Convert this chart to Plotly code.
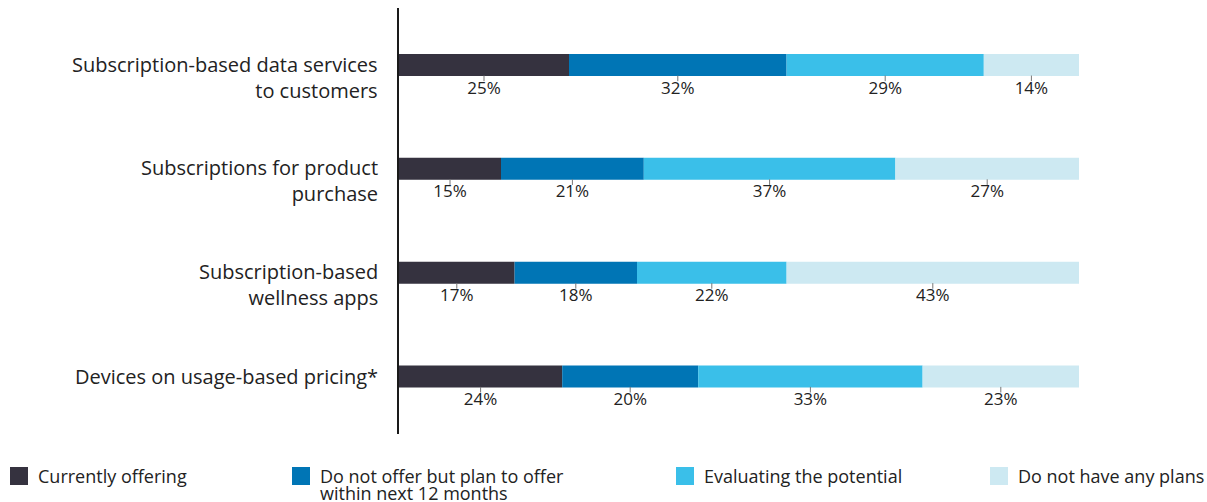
import plotly.graph_objects as go

# Survey data: share of respondents per offering model
categories = [
    "Subscription-based data services<br>to customers",
    "Subscriptions for product<br>purchase",
    "Subscription-based<br>wellness apps",
    "Devices on usage-based pricing*",
]
series_names = [
    "Currently offering",
    "Do not offer but plan to offer<br>within next 12 months",
    "Evaluating the potential",
    "Do not have any plans",
]
currently_offering = [25, 15, 17, 24]
plan_to_offer = [32, 21, 18, 20]
evaluating = [29, 37, 22, 33]
no_plans = [14, 27, 43, 23]

series_values = [currently_offering, plan_to_offer, evaluating, no_plans]
colors = ["#35323f", "#0075b5", "#3abfe9", "#cde9f2"]

FONT = "Open Sans"
TEXT_COLOR = "#222222"

ypos = list(range(len(categories)))
fig = go.Figure()

base = [0] * len(categories)
label_x, label_y, label_t = [], [], []
for name, vals, col in zip(series_names, series_values, colors):
    fig.add_trace(go.Bar(
        x=vals, y=ypos, base=base, orientation="h", width=0.212,
        marker=dict(color=col, line=dict(width=0)), name=name,
        showlegend=False, hoverinfo="skip",
    ))
    for i, v in enumerate(vals):
        label_x.append(base[i] + v / 2)
        label_y.append(i)
        label_t.append(f"{v}%")
    base = [b + v for b, v in zip(base, vals)]

# small leader ticks under each segment
fig.add_trace(go.Scatter(
    x=label_x, y=[y + 0.128 for y in label_y], mode="markers",
    marker=dict(symbol="line-ns", size=4, line=dict(width=1, color="#777777")),
    showlegend=False, hoverinfo="skip",
))
# percentage labels under each segment
fig.add_trace(go.Scatter(
    x=label_x, y=[y + 0.235 for y in label_y], mode="text", text=label_t,
    textfont=dict(family=FONT, size=17, color=TEXT_COLOR),
    showlegend=False, hoverinfo="skip",
))

annotations = []
# category labels, first line level with the bar
for i, cat in enumerate(categories):
    n = cat.count("<br>")
    annotations.append(dict(
        x=0, xref="paper", y=i, yref="y", xanchor="right", yanchor="middle",
        xshift=-19, yshift=-12 * n, text=cat, showarrow=False, align="right",
        font=dict(family=FONT, size=20, color=TEXT_COLOR),
    ))

# legend row
shapes = []
legend_x = [10, 292, 676, 990]
W, H = 1207, 502
for lx, name, col in zip(legend_x, series_names, colors):
    shapes.append(dict(
        type="rect", xref="paper", yref="paper",
        x0=(lx - 399) / 680, x1=(lx + 18 - 399) / 680,
        y0=(434 - 485) / 426, y1=(434 - 467) / 426,
        fillcolor=col, line=dict(width=0), layer="above",
    ))
    for k, line in enumerate(name.split("<br>")):
        annotations.append(dict(
            x=(lx + 26 - 399) / 680, xref="paper",
            y=(434 - (476 + 17 * k)) / 426, yref="paper",
            xanchor="left", yanchor="middle", text=line, showarrow=False,
            font=dict(family=FONT, size=18, color=TEXT_COLOR),
        ))

fig.update_layout(
    width=W, height=H,
    margin=dict(l=399, r=128, t=8, b=68),
    plot_bgcolor="white", paper_bgcolor="white",
    barmode="overlay",
    xaxis=dict(range=[0, 100], visible=False, fixedrange=True),
    yaxis=dict(range=[3.555, -0.55], showticklabels=False, showgrid=False,
               zeroline=False, showline=True, linecolor="#1a1a1a", linewidth=1.5,
               ticks=""),
    annotations=annotations, shapes=shapes, showlegend=False,
)

fig.write_html("out.html")
